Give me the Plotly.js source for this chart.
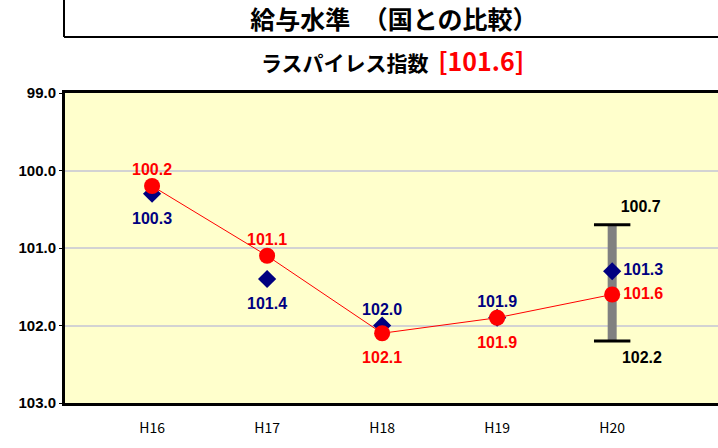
<!DOCTYPE html>
<html><head><meta charset="utf-8">
<script src="https://cdn.plot.ly/plotly-3.0.1.min.js"></script>
<style>html,body{margin:0;padding:0;background:#fff}#c{width:718px;height:448px}</style>
</head><body><div id="c"></div>
<script>
const categories = ['H16','H17','H18','H19','H20'];
const cityIndex = [100.2, 101.1, 102.1, 101.9, 101.6];
const avgIndex = [100.3, 101.4, 102.0, 101.9, 101.3];
const rangeCat = ['H20','H20'];
const rangeVals = [100.7, 102.2];
const yTicks = [99, 100, 101, 102, 103];

const numFont = 'Liberation Sans, Arial, sans-serif';
const jpFont = 'Noto Sans CJK JP, sans-serif';

const redPos = ['top center','top center','bottom center','bottom center','middle right'];
const bluePos = ['bottom center','bottom center','top center','top center','middle right'];
const sizeFor = p => p.startsWith('bottom') ? 27 : (p.startsWith('top') ? 9 : 16);
const clear = 'rgba(0,0,0,0)';
const noLine = {width: 0, color: clear};

const traces = [
  { x: rangeCat, y: rangeVals, mode: 'lines', line: {color: '#808080', width: 9},
    hoverinfo: 'skip', showlegend: false },
  { x: rangeCat, y: rangeVals, mode: 'markers',
    marker: {symbol: 'line-ew', size: 26, line: {color: '#000', width: 3}}, showlegend: false },
  { x: rangeCat, y: rangeVals, mode: 'markers+text',
    marker: {size: [12, 14], color: clear, line: noLine},
    text: rangeVals.map(v => v.toFixed(1)), textposition: ['top right','bottom right'],
    textfont: {family: numFont, size: 16, color: '#000', weight: 'bold'}, showlegend: false },
  { x: categories, y: avgIndex, mode: 'markers',
    marker: {symbol: 'diamond', size: 14, color: '#000080', line: noLine}, showlegend: false },
  { x: categories, y: cityIndex, mode: 'lines+markers',
    line: {color: '#FF0000', width: 1},
    marker: {symbol: 'circle', size: 16, color: '#FF0000', line: noLine}, showlegend: false },
  { x: categories, y: avgIndex, mode: 'markers+text',
    marker: {size: bluePos.map(sizeFor), color: clear, line: noLine},
    text: avgIndex.map(v => v.toFixed(1)), textposition: bluePos,
    textfont: {family: numFont, size: 16, color: '#000080', weight: 'bold'}, showlegend: false },
  { x: categories, y: cityIndex, mode: 'markers+text',
    marker: {size: redPos.map(sizeFor), color: clear, line: noLine},
    text: cityIndex.map(v => v.toFixed(1)), textposition: redPos,
    textfont: {family: numFont, size: 16, color: '#FF0000', weight: 'bold'}, showlegend: false }
];

const layout = {
  width: 718, height: 448,
  margin: {l: 65, r: 0, t: 93, b: 45},
  paper_bgcolor: '#fff', plot_bgcolor: '#FFFFCC',
  showlegend: false,
  title: {text: '給与水準　（国との比較）', x: 394/718, xanchor: 'center', y: 1 - 20/448, yanchor: 'middle',
    font: {family: jpFont, size: 25, color: '#000', weight: 'bold'}},
  xaxis: {type: 'category', categoryarray: categories, range: [-0.757, 4.92],
    showgrid: false, zeroline: false, showline: true, linecolor: '#000', linewidth: 3, mirror: true,
    ticks: '', ticklabelstandoff: 10,
    tickfont: {family: jpFont, size: 14, color: '#000'}},
  yaxis: {range: [103, 99], tickvals: yTicks, ticktext: yTicks.map(v => v.toFixed(1)),
    showgrid: true, gridcolor: '#D3D3D3', gridwidth: 2, zeroline: false,
    showline: true, linecolor: '#000', linewidth: 3, ticks: 'outside', ticklen: 3, tickcolor: '#000',
    tickfont: {family: numFont, size: 15, color: '#000', weight: 'bold'}},
  annotations: [
    {xref: 'paper', yref: 'paper', x: (393-65)/653, y: (403-60)/310, xanchor: 'center', yanchor: 'middle',
     showarrow: false,
     text: '<span style="font-size:21px">ラスパイレス指数</span>  <span style="color:#FF0000;font-size:25px">[101.6]</span>',
     font: {family: jpFont, size: 21, color: '#000', weight: 'bold'}}
  ],
  shapes: [
    {type: 'line', xref: 'paper', yref: 'paper', x0: -0.0015, x1: -0.0015, y0: (403-37)/310, y1: 403/310,
     line: {color: '#000', width: 2}},
    {type: 'line', xref: 'paper', yref: 'paper', x0: -0.0015, x1: 1, y0: (403-37)/310, y1: (403-37)/310,
     line: {color: '#000', width: 2}}
  ]
};

Plotly.newPlot('c', traces, layout, {staticPlot: true});
</script></body></html>
